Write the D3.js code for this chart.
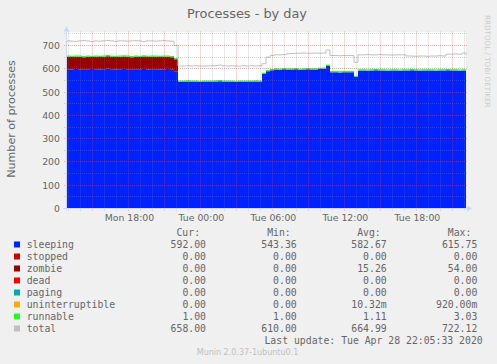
<!DOCTYPE html>
<html><head><meta charset="utf-8">
<script src="https://cdn.jsdelivr.net/npm/d3@7"></script>
<style>html,body{margin:0;padding:0;background:#f0f0f0;} svg{display:block}</style>
</head><body><svg id="c" width="497" height="364"></svg>
<script>
const chartTitle = "Processes - by day";
const yLabel = "Number of processes";
const watermark = "RRDTOOL / TOBI OETIKER";
const footer = "Munin 2.0.37-1ubuntu0.1";
const lastUpdate = "Last update: Tue Apr 28 22:05:33 2020";

// samples every 20 minutes from Mon 12:45:33 to Tue 22:05:33 (101 samples)
const sampleStart = "2020-04-27T12:45:33";
const sampleEnd = "2020-04-28T22:05:33";
const sampleStepMinutes = 20;

const sleeping = [598,597,599,598,596,598,599,598,597,598,600,598,597,598,599,598,596,598,598,599,597,598,598,597,598,599,596,587,
  545,545,546,545,545,544,545,545,545,546,547,545,545,545,544,545,545,545,545,546,545,
  578,590,594,
  597,596,598,597,597,598,596,597,598,597,597,599,600,
  612,
  585,585,584,585,585,585,
  565,
  593,593,592,593,594,593,593,592,593,593,592,593,593,594,593,592,593,593,593,592,593,593,594,593,593,592,593,592];
const stopped = [
  0,0,0,0,0,0,0,0,0,0, 0,0,0,0,0,0,0,0,0,0, 0,0,0,0,0,0,0,0,0,0, 0,0,0,0,0,0,0,0,0,0, 0,0,0,0,0,0,0,0,0,0,
  0,0,0,0,0,0,0,0,0,0, 0,0,0,0,0,0,0,0,0,0, 0,0,0,0,0,0,0,0,0,0, 0,0,0,0,0,0,0,0,0,0, 0,0,0,0,0,0,0,0,0,0,
  0];
const zombie = [54,54,53,54,54,54,52,54,54,54,54,53,54,54,54,54,54,54,53,54,54,54,54,54,54,53,54,54,
  0,0,0,0,0,0,0,0,0,0, 0,0,0,0,0,0,0,0,0,0, 0,0,0,0,0,0,0,0,0,0, 0,0,0,0,0,0,0,0,0,0,
  0,0,0,0,0,0,0,0,0,0, 0,0,0,0,0,0,0,0,0,0, 0,0,0,0,0,0,0,0,0,0,
  0,0,0];
const dead = [
  0,0,0,0,0,0,0,0,0,0, 0,0,0,0,0,0,0,0,0,0, 0,0,0,0,0,0,0,0,0,0, 0,0,0,0,0,0,0,0,0,0, 0,0,0,0,0,0,0,0,0,0,
  0,0,0,0,0,0,0,0,0,0, 0,0,0,0,0,0,0,0,0,0, 0,0,0,0,0,0,0,0,0,0, 0,0,0,0,0,0,0,0,0,0, 0,0,0,0,0,0,0,0,0,0,
  0];
const paging = [
  0,0,0,0,0,0,0,0,0,0, 0,0,0,0,0,0,0,0,0,0, 0,0,0,0,0,0,0,0,0,0, 0,0,0,0,0,0,0,0,0,0, 0,0,0,0,0,0,0,0,0,0,
  0,0,0,0,0,0,0,0,0,0, 0,0,0,0,0,0,0,0,0,0, 0,0,0,0,0,0,0,0,0,0, 0,0,0,0,0,0,0,0,0,0, 0,0,0,0,0,0,0,0,0,0,
  0];
const uninterruptible = [
  0,0,0,0,0,0,0,0,0,0, 0,0,0,0,0,0,0,0,0,0, 0,0,0,0,0,0,0,0,0,0, 0,0,0,0,0,0,0,0,0,0, 0,0,0,0,0,0,0,0,0,0,
  0,0,0,0,0,0,0,0,0,0, 0,0,0,0,0,0.11,0.92,0,0,0, 0,0,0,0,0,0,0,0,0,0, 0,0,0,0,0,0,0,0,0,0, 0,0,0,0,0,0,0,0,0,0,
  0];
const runnable = [1,1,2,1,1,1,1,1,1,2,1,1,1,1,1,1,1,2,1,1,1,1,1,1,1,1,1,1,
  1,1,1,1,1,1,2,1,1,1,1,1,1,1,1,1,1,1,1,1,1,
  1,1,1,
  1,1,2,1,1,1,1,3.03,1,1,1,1,1,
  1,
  2,1,1,1,1,1,
  1,
  1,1,1,1,1,2,1,1,1,1,1,1,1,1,2,1,1,1,1,1,1,2,1,1,1,1,1,1];
const total = [720,719,718,720,721,720,717,720,719,720,722,720,718,720,720,719,720,721,720,717,720,720,719,720,721,720,719,700,
  612,612,613,612,613,612,612,613,613,614,616,613,612,613,612,612,613,612,613,612,613,
  622,650,657,
  660,660,661,664,666,667,667,668,667,667,668,667,668,
  681,
  657,657,656,657,657,657,
  628,
  660,660,661,660,660,661,660,660,659,660,660,660,655,655,654,655,655,654,655,655,656,655,663,663,664,663,668,658];

const seriesNames = ["sleeping","stopped","zombie","dead","paging","uninterruptible","runnable","total"];
const seriesColors = ["#0022ff","#cc0000","#990000","#ff0000","#00aaaa","#ffaa00","#22ff22","#c0c0c0"];
const curVals = ["592.00","0.00","0.00","0.00","0.00","0.00","1.00","658.00"];
const minVals = ["543.36","0.00","0.00","0.00","0.00","0.00","1.00","610.00"];
const avgVals = ["582.67","0.00","15.26","0.00","0.00","10.32m","1.11","664.99"];
const maxVals = ["615.75","0.00","54.00","0.00","0.00","920.00m","3.03","722.12"];
const colHeaders = ["Cur:","Min:","Avg:","Max:"];
const yTicks = [0,100,200,300,400,500,600,700];

const svg = d3.select("#c");
const X0 = 66, X1 = 466, YB = 208.5, YT = 32.5;
const t0 = new Date(sampleStart), t1 = new Date(sampleEnd);
const x = d3.scaleTime().domain([t0, t1]).range([X0, X1]);
const y = d3.scaleLinear().domain([0, 756]).range([YB, YT]);
const snap = v => Math.round(v - 0.5) + 0.5;

const times = sleeping.map((_, i) => new Date(t0.getTime() + i * sampleStepMinutes * 60000));
const stackKeys = seriesNames.slice(0, 7);
const seriesArrays = {sleeping, stopped, zombie, dead, paging, uninterruptible, runnable};
const rows = times.map((t, i) => {
  const r = {t};
  stackKeys.forEach(k => r[k] = seriesArrays[k][i]);
  return r;
});
const stacked = d3.stack().keys(stackKeys)(rows);

svg.append("rect").attr("width", 497).attr("height", 364).attr("fill", "#f0f0f0");
svg.append("rect").attr("x", X0).attr("y", YT - 0.5).attr("width", X1 - X0).attr("height", YB - YT + 0.5).attr("fill", "#ffffff");

// thin non-zero bands are shown at least ~1px high, like the rrd raster
const area = d3.area().curve(d3.curveStepAfter)
  .x(d => x(d.data.t)).y0(d => y(d[0]))
  .y1(d => (d[1] - d[0]) > 0 ? Math.min(y(d[1]), y(d[0]) - 1.2) : y(d[1]));
svg.append("g").selectAll("path").data(stacked).join("path")
  .attr("d", area).attr("fill", (d, i) => seriesColors[i]);

// total line
svg.append("path").datum(total)
  .attr("d", d3.line().curve(d3.curveStepAfter).x((d, i) => x(times[i])).y(d => y(d)))
  .attr("fill", "none").attr("stroke", seriesColors[7]).attr("stroke-width", 1);

// grid
const g = svg.append("g").attr("stroke-dasharray", "1,1").attr("stroke-width", 1);
const minorC = "rgba(128,128,128,0.35)", majorC = "rgba(235,70,70,0.42)";
d3.range(50, 760, 50).forEach(v => {
  const major = v % 100 === 0;
  const yy = snap(y(v));
  g.append("line").attr("x1", X0 - 2).attr("x2", X1 + 2).attr("y1", yy).attr("y2", yy)
    .attr("stroke", major ? majorC : minorC);
});
d3.timeHour.every(1).range(t0, t1).forEach(h => {
  const major = h.getHours() % 3 === 0;
  const xx = snap(x(h));
  g.append("line").attr("x1", xx).attr("x2", xx).attr("y1", YT - 1).attr("y2", YB + 2)
    .attr("stroke", major ? majorC : minorC);
});

// axes
const axisC = "#cfd6f8";
svg.append("line").attr("x1", X0 - 3).attr("x2", X1 + 2).attr("y1", YB).attr("y2", YB).attr("stroke", axisC);
svg.append("path").attr("d", `M${X1+1},${YB-3}L${X1+6},${YB}L${X1+1},${YB+3}Z`).attr("fill", axisC);
svg.append("line").attr("x1", X0 + 0.5).attr("x2", X0 + 0.5).attr("y1", YB + 2).attr("y2", YT - 1).attr("stroke", axisC);
svg.append("path").attr("d", `M${X0-2.5},${YT-1}L${X0+0.5},${YT-6}L${X0+3.5},${YT-1}Z`).attr("fill", axisC);

const font = "DejaVu Sans, sans-serif", mono = "DejaVu Sans Mono, monospace", fc = "#666666";
// y tick labels
svg.append("g").selectAll("text").data(yTicks).join("text")
  .attr("x", 60).attr("y", d => snap(y(d)) + 3.3).attr("text-anchor", "end")
  .attr("font-family", font).attr("font-size", 9.33).attr("fill", fc).text(d => d);
// x tick labels via axis
const xAxis = d3.axisBottom(x).ticks(d3.timeHour.every(6)).tickFormat(d3.timeFormat("%a %H:%M")).tickSize(0).tickPadding(0);
const xa = svg.append("g").attr("transform", `translate(0,${YB})`).call(xAxis);
xa.select(".domain").remove();
xa.selectAll("text").attr("font-family", font).attr("font-size", 9.33).attr("fill", fc).attr("dy", null).attr("y", 12.3);

svg.append("text").attr("x", 247).attr("y", 18).attr("text-anchor", "middle")
  .attr("font-family", font).attr("font-size", 12.9).attr("fill", fc).text(chartTitle);
svg.append("text").attr("transform", "translate(14.5,119) rotate(-90)").attr("text-anchor", "middle")
  .attr("font-family", font).attr("font-size", 11.1).attr("fill", fc).text(yLabel);
svg.append("text").attr("transform", "translate(484.5,15) rotate(90)").attr("text-anchor", "start")
  .attr("font-family", font).attr("font-size", 7.2).attr("fill", "#cccccc").text(watermark);

// legend
const colRight = [206, 296.7, 386.7, 477.3];
const cw = 5.93;
const lf = 9.8;
colHeaders.forEach((h, j) => {
  svg.append("text").attr("x", colRight[j] - cw).attr("y", 236).attr("text-anchor", "end")
    .attr("font-family", mono).attr("font-size", lf).attr("fill", fc).text(h);
});
const cols = [curVals, minVals, avgVals, maxVals];
seriesNames.forEach((n, i) => {
  const by = 248 + i * 12;
  svg.append("rect").attr("x", 14).attr("y", by - 6.5).attr("width", 6).attr("height", 6).attr("fill", seriesColors[i]);
  svg.append("text").attr("x", 26.7).attr("y", by).attr("font-family", mono).attr("font-size", lf).attr("fill", fc).text(n);
  cols.forEach((c, j) => {
    svg.append("text").attr("x", colRight[j]).attr("y", by).attr("text-anchor", "end")
      .attr("font-family", mono).attr("font-size", lf).attr("fill", fc).text(c[i]);
  });
});
svg.append("text").attr("x", 482.7).attr("y", 344).attr("text-anchor", "end")
  .attr("font-family", mono).attr("font-size", lf).attr("fill", fc).text(lastUpdate);
svg.append("text").attr("x", 247.5).attr("y", 355).attr("text-anchor", "middle")
  .attr("font-family", font).attr("font-size", 8).attr("fill", "#c0c0c0").text(footer);
</script></body></html>
